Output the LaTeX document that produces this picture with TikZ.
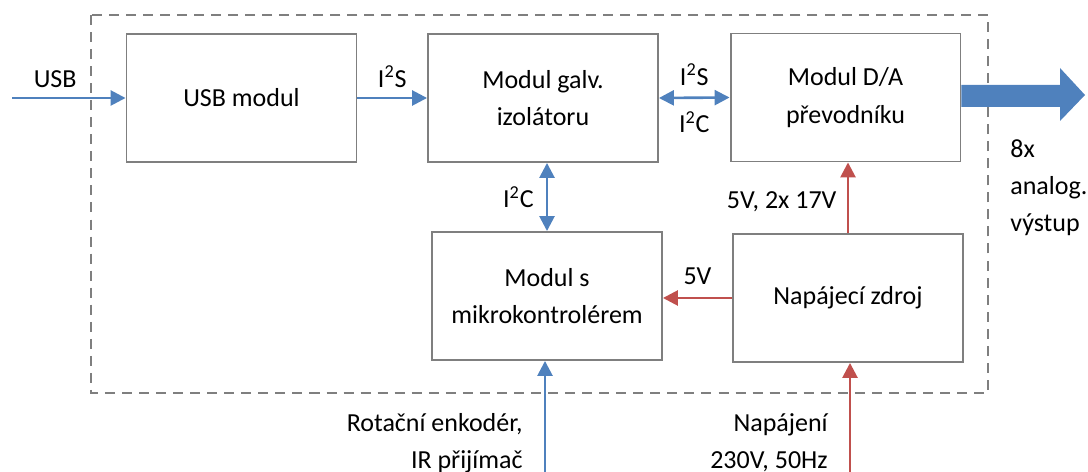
\documentclass[tikz,border=0pt]{standalone}
\usepackage{fontspec}
\setmainfont{Carlito}
\usetikzlibrary{arrows.meta}
\usetikzlibrary{positioning}
\definecolor{sigblue}{HTML}{4F81BD}
\definecolor{pwrred}{HTML}{C0504D}
\definecolor{framegray}{HTML}{7F7F7F}
\tikzset{block/.style = {draw=framegray, line width=1.1pt, minimum width=4.6cm,
                         minimum height=2.56cm, align=center},
         tip/.style = {-{Triangle[length=8.5pt,width=8.5pt]}},
         tips/.style = {{Triangle[length=8.5pt,width=8.5pt]}-{Triangle[length=8.5pt,width=8.5pt]}},
         sig/.style = {draw=sigblue, line width=1.5pt, text=black},
         pwr/.style = {draw=pwrred, line width=1.5pt, text=black}}

\begin{document}
\begin{tikzpicture}[x=0.02cm, y=-0.02cm, font=\fontsize{14.8}{21.3}\selectfont]
  \useasboundingbox (0,0) rectangle (1088,472);
  % hranice zarizeni
  \draw[framegray, line width=1.1pt, dash pattern=on 5.7pt off 4pt] (91,15) rectangle (988,393);

  % bloky
  \node[block] (usb) at (241.5,98) {USB modul};
  \node[block] (galv) at (543,98) {Modul galv.\\izolátoru};
  \node[block] (dac) at (845.5,97.5) {Modul D/A\\převodníku};
  \node[block] (mcu) at (547,296) {Modul s\\mikrokontrolérem};
  \node[block] (psu) at (848,298) {Napájecí zdroj};

  % vstupy zvenku
  \coordinate (usbin) at (12,98);
  \coordinate (encin) at (545,472);
  \coordinate (mainsin) at (850,472);

  % signaly
  \draw[sig, tip] (usbin) -- (usb.west) node[pos=0.38, above=2pt] {USB};
  \draw[sig, tip] (usb.east) -- (galv.west) node[midway, above=2pt] {I\textsuperscript{2}S};
  \draw[sig, tips] (galv.east) -- (dac.west)
    node[midway, above=3pt] {I\textsuperscript{2}S}
    node[midway, below=4pt] {I\textsuperscript{2}C};
  \draw[sig, tips] (mcu.north) -- (mcu.north |- galv.south) node[midway, left=3.5pt] {I\textsuperscript{2}C};
  \draw[sig, tip] (encin) -- (encin |- mcu.south);

  % napajeni
  \draw[pwr, tip] (psu.west) -- (psu.west -| mcu.east) node[midway, above=3.5pt] {5V};
  \draw[pwr, tip] (psu.north) -- (psu.north |- dac.south) node[pos=0.45, left=2.5pt] {5V, 2x 17V};
  \draw[pwr, tip] (mainsin) -- (mainsin |- psu.south);

  % vystup
  \fill[sigblue] (dac.east |- 0,85) -- (1060,85) -- (1060,68) -- (1085,95)
    -- (1060,121) -- (1060,107) -- (dac.east |- 0,107) -- cycle;
  \node[anchor=north west, align=left, inner sep=0pt] (out) at (1010,139) {8x\\analog.\\výstup};

  % popisky vstupu
  \node[anchor=north east, align=right, inner sep=0pt] (enc) at (523,413) {Rotační enkodér,\\IR přijímač};
  \node[anchor=north east, align=right, inner sep=0pt] (mains) at (828,413) {Napájení\\230V, 50Hz};
\end{tikzpicture}
\end{document}
